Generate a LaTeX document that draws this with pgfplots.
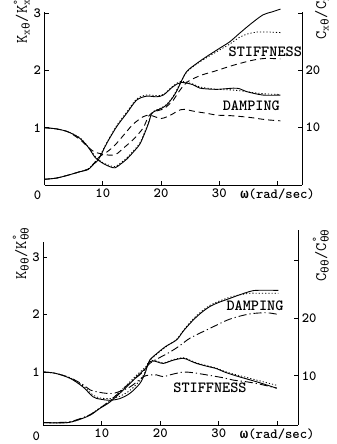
\documentclass[border=0pt]{standalone}
\usepackage{fontspec}
\newfontfamily\greek{Liberation Mono}
\usepackage{pgfplots}
\pgfplotsset{compat=1.18}
\newcommand{\lblfont}{\ttfamily\bfseries\fontsize{15.5}{15.5}\selectfont}
\newcommand{\tckfont}{\ttfamily\bfseries\fontsize{14}{14}\selectfont}
\newcommand{\ttlfont}{\ttfamily\fontsize{16}{16}\selectfont}
\begin{document}
\begin{tikzpicture}[x=1pt,y=1pt]
\pgfplotsset{
  base/.style={scale only axis, clip=false,
    axis line style={line width=0.9pt},
    tick style={line width=0.8pt, black},
    major tick length=4pt, tick align=inside,
    ticklabel style={font=\tckfont},
    /pgf/number format/assume math mode=true},
  sol/.style={black, line width=0.9pt, smooth},
  dot/.style={black, line width=0.8pt, smooth, dash pattern=on 1.2pt off 2pt},
  dsh/.style={black, line width=0.9pt, smooth, dash pattern=on 6pt off 4pt},
  dsd/.style={black, line width=0.9pt, smooth, dash pattern=on 8pt off 3pt on 1.2pt off 3pt},
}
% ================= TOP =================
\begin{axis}[base, at={(44.5pt,259pt)}, anchor=south west,
  width=257.5pt, height=173pt,
  xmin=0, xmax=44.2, ymin=0, ymax=3.02,
  axis x line*=bottom, axis y line*=left,
  xtick={10,20,30,40}, xticklabels={10,20,30,{{\greek ω}(rad/sec)}},
  ytick={1,2,3}]
\addplot[sol] coordinates {(0,1.0)(2,0.98)(4,0.93)(6,0.82)(7.5,0.66)(8.7,0.48)(10,0.38)(11.2,0.32)(12.1,0.30)(13,0.36)(14.1,0.45)(15.2,0.57)(16.4,0.72)(17.5,0.98)(18,1.12)(18.4,1.25)(19.2,1.3)(20.1,1.34)(21,1.4)(22.1,1.54)(22.8,1.66)(23.3,1.77)(24.4,1.98)(26.1,2.12)(27.8,2.24)(30.1,2.39)(31.8,2.5)(33.5,2.65)(35.5,2.82)(37.5,2.97)(39,3.02)(40.5,3.07)};
\addplot[dot] coordinates {(0,1.0)(2,0.98)(4,0.93)(6,0.83)(7.5,0.67)(8.7,0.5)(10,0.39)(11.2,0.34)(12.1,0.32)(13,0.38)(14.1,0.47)(15.2,0.59)(16.4,0.74)(17.5,1.0)(18.4,1.25)(19.2,1.31)(20.1,1.35)(21,1.41)(22.1,1.55)(23.3,1.78)(24.4,1.97)(26.1,2.11)(27.8,2.22)(30.1,2.36)(31.8,2.46)(33.5,2.58)(35,2.64)(36.5,2.67)(38.5,2.67)(40.5,2.66)};
\addplot[dsh] coordinates {(0,1.0)(2,0.98)(4,0.93)(6,0.8)(7.5,0.66)(8.5,0.58)(9.5,0.55)(10.5,0.53)(11.5,0.52)(12.5,0.55)(13.5,0.64)(15.2,0.79)(16.9,0.99)(17.8,1.19)(18.5,1.26)(19.5,1.3)(20.5,1.33)(21.3,1.4)(22.1,1.48)(23,1.62)(24,1.75)(25,1.83)(27,1.92)(29,1.98)(32.4,2.09)(35.8,2.18)(38,2.21)(40.5,2.2)};
\addplot[sol] coordinates {(0,0.1)(2,0.12)(4,0.17)(6,0.23)(7.5,0.27)(8.5,0.37)(9.3,0.45)(10.7,0.73)(12.4,1.02)(14.1,1.25)(15.8,1.48)(17.5,1.55)(19.2,1.54)(20.4,1.57)(22.1,1.72)(23.5,1.79)(25.5,1.75)(26.7,1.69)(29.5,1.67)(32.4,1.69)(33.5,1.68)(34.7,1.63)(37.5,1.57)(40.5,1.57)};
\addplot[dot] coordinates {(0,0.1)(2,0.12)(4,0.17)(6,0.23)(7.5,0.28)(8.5,0.38)(9.3,0.47)(10.7,0.74)(12.4,1.04)(14.1,1.27)(15.8,1.5)(17.5,1.57)(19.2,1.56)(20.4,1.58)(22.1,1.73)(23.5,1.81)(25.5,1.76)(26.7,1.71)(29.5,1.67)(32,1.66)(34,1.64)(36,1.61)(38,1.59)(40.5,1.58)};
\addplot[dsh] coordinates {(0,0.1)(2,0.12)(4,0.17)(6,0.23)(7.5,0.28)(8.5,0.38)(9.5,0.5)(10.5,0.56)(11.5,0.64)(12.4,0.73)(14,0.92)(15.2,1.06)(16.9,1.19)(18,1.22)(19,1.19)(20,1.16)(21,1.19)(22,1.24)(23,1.3)(24,1.32)(26,1.28)(28,1.25)(29.5,1.22)(32,1.21)(35.2,1.18)(38,1.14)(40.5,1.12)};
\node[font=\lblfont] at (axis cs:37.9,2.32) {STIFFNESS};
\node[font=\lblfont] at (axis cs:35.5,1.38) {DAMPING};
\node[font=\tckfont] at (axis cs:0,0) [xshift=-7pt, yshift=-10pt] {0};
\end{axis}
\begin{axis}[base, at={(44.5pt,259pt)}, anchor=south west,
  width=257.5pt, height=173pt,
  xmin=0, xmax=44.2, ymin=0, ymax=30.2,
  axis x line=none, axis y line*=right,
  ytick={10,20,30}, yticklabels={10,20,{}}]
\end{axis}
% ================= BOTTOM =================
\begin{axis}[base, at={(43.3pt,19pt)}, anchor=south west,
  width=255pt, height=183pt,
  xmin=0, xmax=43.6, ymin=0.08, ymax=3.26,
  axis x line*=bottom, axis y line*=left,
  xtick={10,20,30,40}, xticklabels={10,20,30,{{\greek ω}(rad/sec)}},
  ytick={1,2,3}]
\addplot[sol] coordinates {(0,1.0)(2,0.98)(4.6,0.89)(6.8,0.74)(8.5,0.57)(9.7,0.53)(11.4,0.51)(13.1,0.54)(14.8,0.63)(16.5,0.8)(17.4,0.98)(17.9,1.15)(18.2,1.18)(19,1.19)(20.5,1.15)(22,1.2)(23.9,1.24)(25,1.2)(26.2,1.15)(28,1.1)(29.6,1.06)(31,1.0)(33.1,0.93)(36.5,0.83)(39.9,0.72)};
\addplot[dot] coordinates {(0,1.0)(2,0.98)(4.6,0.9)(6.8,0.76)(8.5,0.6)(9.7,0.55)(11.4,0.54)(13.1,0.58)(14.8,0.68)(16.5,0.85)(17.4,1.0)(17.9,1.15)(18.2,1.19)(19,1.2)(20.5,1.16)(22,1.21)(23.9,1.25)(25,1.21)(26.2,1.16)(28,1.11)(29.6,1.07)(31,1.01)(33.1,0.95)(36.5,0.86)(39.9,0.77)};
\addplot[dsd] coordinates {(0,1.0)(2,0.98)(4.6,0.9)(6.8,0.78)(8,0.69)(9.5,0.65)(10.8,0.63)(12,0.63)(13.5,0.68)(14.8,0.74)(16,0.83)(17.1,0.92)(18.2,0.95)(19.4,0.95)(20.5,0.92)(22,0.96)(23.9,1.0)(25.5,0.99)(27.4,0.96)(30.8,0.9)(32.5,0.86)(34.8,0.83)(37,0.79)(39.9,0.72)};
\addplot[sol] coordinates {(0,0.12)(4,0.12)(6,0.17)(8,0.25)(9.7,0.37)(11.4,0.48)(13.7,0.69)(16,0.92)(17.7,1.09)(18.2,1.21)(19.5,1.33)(21,1.45)(22.8,1.56)(24,1.72)(25.6,1.9)(27,2.03)(28.5,2.14)(30,2.21)(31.9,2.28)(33.5,2.34)(35.3,2.4)(36.5,2.42)(40.2,2.42)};
\addplot[dot] coordinates {(0,0.12)(4,0.12)(6,0.17)(8,0.26)(9.7,0.38)(11.4,0.5)(13.7,0.72)(16,0.95)(17.7,1.11)(18.2,1.2)(19.5,1.32)(21,1.44)(22.8,1.57)(24,1.73)(25.6,1.92)(27,2.05)(28.5,2.16)(30,2.23)(31.9,2.3)(33.5,2.34)(35.3,2.37)(36.5,2.37)(40.2,2.37)};
\addplot[dsd] coordinates {(0,0.12)(4,0.13)(6,0.18)(8,0.26)(9.5,0.36)(11,0.47)(12.5,0.6)(14,0.74)(15.5,0.87)(17,1.0)(18.2,1.15)(19.5,1.23)(21.7,1.35)(23.5,1.47)(25.1,1.59)(28.5,1.76)(31.9,1.92)(35.3,2.01)(38.2,2.03)(40.2,2.0)};
\node[font=\lblfont] at (axis cs:36.2,2.15) {DAMPING};
\node[font=\lblfont] at (axis cs:28.5,0.72) {STIFFNESS};
\node[font=\tckfont] at (axis cs:0,0.08) [xshift=-7pt, yshift=-11pt] {0};
\end{axis}
\begin{axis}[base, at={(43.3pt,19pt)}, anchor=south west,
  width=255pt, height=195pt,
  xmin=0, xmax=43.6, ymin=1.46, ymax=35.3,
  axis x line=none, axis y line*=right,
  ytick={10,20,30}, yticklabels={10,20,{}}]
\end{axis}
% ================= axis titles =================
\node[rotate=90, anchor=base west, font=\ttlfont] at (27,397)
  {K\textsubscript{x{\greek θ}}/K\rlap{\textsuperscript{°}}\textsubscript{x{\greek θ}}};
\node[rotate=90, anchor=base west, font=\ttlfont] at (326,401)
  {C\textsubscript{x{\greek θ}}/C\rlap{\textsuperscript{°}}\textsubscript{x{\greek θ}}};
\node[rotate=90, anchor=base west, font=\ttlfont] at (26,161)
  {K\textsubscript{{\greek θθ}}/K\rlap{\textsuperscript{°}}\textsubscript{{\greek θθ}}};
\node[rotate=90, anchor=base west, font=\ttlfont] at (326,159)
  {C\textsubscript{{\greek θθ}}/C\rlap{\textsuperscript{°}}\textsubscript{{\greek θθ}}};
\pgfresetboundingbox
\useasboundingbox (0,0) rectangle (337,444);
\end{tikzpicture}
\end{document}
